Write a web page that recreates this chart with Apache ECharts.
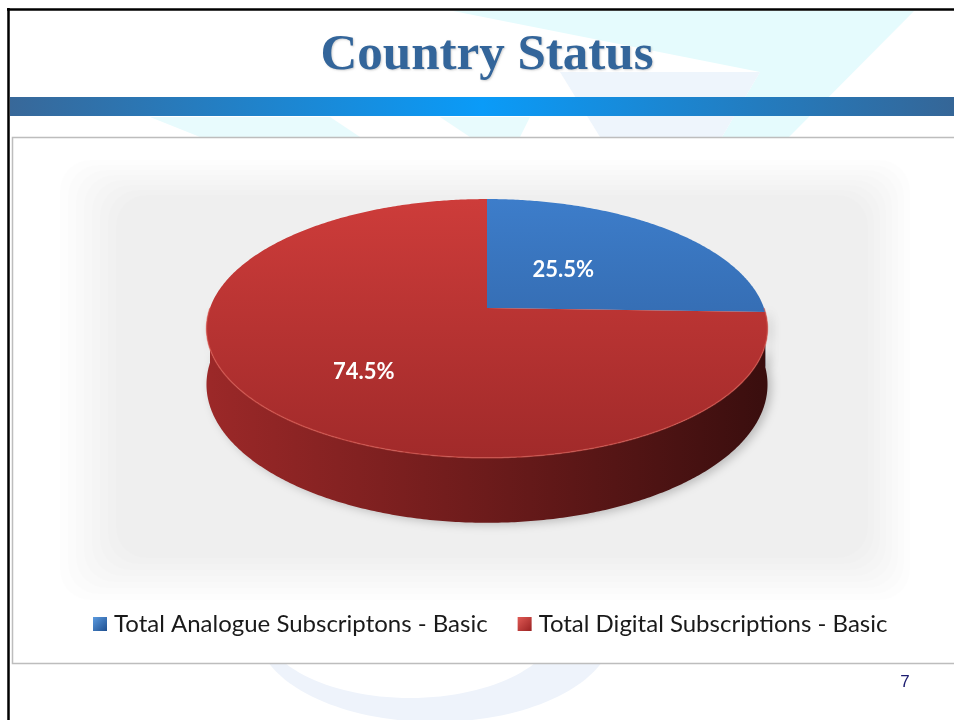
<!DOCTYPE html>
<html>
<head>
<meta charset="utf-8">
<title>Country Status</title>
<script src="https://cdn.jsdelivr.net/npm/echarts@6/dist/echarts.min.js"></script>
<style>
  html, body { margin: 0; padding: 0; background: #fff; }
  #chart { width: 954px; height: 720px; }
</style>
</head>
<body>
<div id="chart"></div>
<script>
// data
const categories = ["Total Analogue Subscriptons - Basic", "Total Digital Subscriptions - Basic"];
const shares = [25.5, 74.5];

// look of the slices
const topColors = [["#3d7dca", "#2c5b99"], ["#cd3c3a", "#a12a2a"]];
const sideColors = [["#2a5488", "#16304f"], ["#9b2828", "#6c1b1b", "#3a0e0e"]];
const legendColors = [["#5b9be0", "#1f4f8f"], ["#e05a55", "#9a2222"]];
const labelRadius = [0.4, 0.58];
const labelDy = [-4, 10];

// fake 3d: a disc seen in perspective
const CX = 487, CY = 308, RX = 277;
const K = -0.158, A = 77.5, DEPTH = 54.7;

function proj(u, v) {
  const w = 1 + K * v;
  return [CX + RX * u / w, (A * v + CY) / w];
}

function ring(a0, a1, depth) {
  const n = Math.max(2, Math.ceil((a1 - a0) / 0.01));
  const pts = [];
  for (let j = 0; j <= n; j++) {
    const t = a0 + (a1 - a0) * j / n;
    const p = proj(Math.cos(t), Math.sin(t));
    if (depth) p[1] += depth / (1 + K * Math.sin(t));
    pts.push(p);
  }
  return pts;
}

function sliceRender(i) {
  return function () {
    const total = shares.reduce((s, v) => s + v, 0);
    let start = -Math.PI / 2;
    for (let j = 0; j < i; j++) start += shares[j] / total * Math.PI * 2;
    const end = start + shares[i] / total * Math.PI * 2;
    const children = [];

    // side wall, only the front half shows
    const s0 = Math.max(start, 0), s1 = Math.min(end, Math.PI);
    if (s1 > s0) {
      const pts = ring(s0, s1, 0).concat(ring(s0, s1, DEPTH).reverse());
      const stops = sideColors[i].map((c, k) => ({ offset: k / (sideColors[i].length - 1), color: c }));
      children.push({
        type: "polygon", z2: 1,
        shape: { points: pts },
        style: {
          fill: { type: "linear", x: CX - RX, y: 0, x2: CX + RX, y2: 0, global: true, colorStops: stops },
          shadowBlur: 10, shadowColor: "rgba(0,0,0,0.22)", shadowOffsetX: 4, shadowOffsetY: 2
        }
      });
    }

    // top face
    const face = [proj(0, 0)].concat(ring(start, end, 0));
    children.push({
      type: "polygon", z2: 5,
      shape: { points: face },
      style: {
        fill: {
          type: "linear", x: 0, y: 199, x2: 0, y2: 458, global: true,
          colorStops: [{ offset: 0, color: topColors[i][0] }, { offset: 1, color: topColors[i][1] }]
        }
      }
    });
    if (s1 > s0) {
      children.push({
        type: "polyline", z2: 6,
        shape: { points: ring(s0, s1, 0) },
        style: { stroke: "rgba(225,95,85,0.55)", lineWidth: 1.5, fill: null }
      });
    }

    const mid = (start + end) / 2, f = labelRadius[i];
    const p = proj(f * Math.cos(mid), f * Math.sin(mid));
    children.push({
      type: "text", z2: 10, x: p[0], y: p[1] + labelDy[i],
      style: {
        text: shares[i].toFixed(1) + "%",
        fill: "#ffffff",
        font: "bold 22px Lato",
        align: "center",
        verticalAlign: "middle"
      }
    });
    return { type: "group", children: children };
  };
}

// soft grey plot backdrop made of stacked translucent boxes
const backdrop = [];
for (let j = 0; j < 8; j++) {
  backdrop.push({
    type: "rect", z: 1,
    shape: { x: 60 + j * 8, y: 160 + j * 5, width: 850 - j * 14, height: 440 - j * 11, r: 30 },
    style: { fill: "rgba(0,0,0,0.0075)" }
  });
}

const chart = echarts.init(document.getElementById("chart"));

chart.setOption({
  animation: false,
  backgroundColor: "#ffffff",
  graphic: [
    // faint logo behind the header
    { type: "polygon", z: 0, shape: { points: [[453, 11], [914, 11], [789, 137], [722, 137], [760, 72]] }, style: { fill: "#e5fbfd" } },
    { type: "polygon", z: 0, shape: { points: [[560, 72], [760, 72], [722, 137], [600, 137]] }, style: { fill: "#eef5fc" } },
    { type: "polygon", z: 0, shape: { points: [[150, 117], [330, 117], [360, 137], [200, 137]] }, style: { fill: "#e8fbfd" } },
    { type: "polygon", z: 0, shape: { points: [[440, 117], [530, 117], [520, 137], [470, 137]] }, style: { fill: "#e8fbfd" } },
    // header bar
    {
      type: "rect", z: 1, shape: { x: 10, y: 97, width: 944, height: 19 },
      style: {
        fill: {
          type: "linear", x: 0, y: 0, x2: 1, y2: 0,
          colorStops: [
            { offset: 0, color: "#386899" },
            { offset: 0.5, color: "#0a9bf8" },
            { offset: 1, color: "#356697" }
          ]
        }
      }
    },
    // faint swoosh at the foot
    { type: "ellipse", z: 0, shape: { cx: 435, cy: 630, rx: 178, ry: 92 }, style: { fill: "#eef3fb" } },
    { type: "ellipse", z: 0, shape: { cx: 410, cy: 620, rx: 150, ry: 78 }, style: { fill: "#ffffff" } },
    // chart frame
    {
      type: "rect", z: 1, shape: { x: 12.5, y: 137.5, width: 950, height: 526 },
      style: { fill: "#ffffff", stroke: "#bdbdbd", lineWidth: 1.5 }
    }
  ].concat(backdrop, [
    // slide border
    { type: "line", z: 3, shape: { x1: 8.5, y1: 8, x2: 8.5, y2: 720 }, style: { stroke: "#000", lineWidth: 2.5 } },
    { type: "line", z: 3, shape: { x1: 7, y1: 9.5, x2: 954, y2: 9.5 }, style: { stroke: "#000", lineWidth: 2.5 } },
    // slide title and page number
    {
      type: "text", z: 3, x: 487, y: 56,
      style: {
        text: "Country Status",
        font: "bold 51px 'Liberation Serif'",
        fill: "#33659a",
        align: "center",
        verticalAlign: "middle",
        textShadowColor: "rgba(0,0,0,0.18)",
        textShadowBlur: 2,
        textShadowOffsetX: 1,
        textShadowOffsetY: 1
      }
    },
    {
      type: "text", z: 3, x: 905, y: 682,
      style: { text: "7", font: "17px 'Liberation Sans'", fill: "#1c1c70", align: "center", verticalAlign: "middle" }
    }
  ]),
  legend: {
    left: 88,
    top: 607,
    itemWidth: 14,
    itemHeight: 14,
    itemGap: 30,
    selectedMode: false,
    textStyle: { fontFamily: "Lato", fontSize: 24, color: "#1a1a1a", padding: [0, 0, 0, 2] },
    data: categories.map((name, i) => ({
      name: name,
      icon: "rect",
      itemStyle: {
        color: {
          type: "linear", x: 0, y: 0, x2: 1, y2: 1,
          colorStops: [{ offset: 0, color: legendColors[i][0] }, { offset: 1, color: legendColors[i][1] }]
        }
      }
    }))
  },
  series: categories.map((name, i) => ({
    type: "custom",
    name: name,
    coordinateSystem: "none",
    silent: true,
    z: 2,
    itemStyle: { color: topColors[i][1] },
    data: [shares[i]],
    renderItem: sliceRender(i)
  }))
});
</script>
</body>
</html>
